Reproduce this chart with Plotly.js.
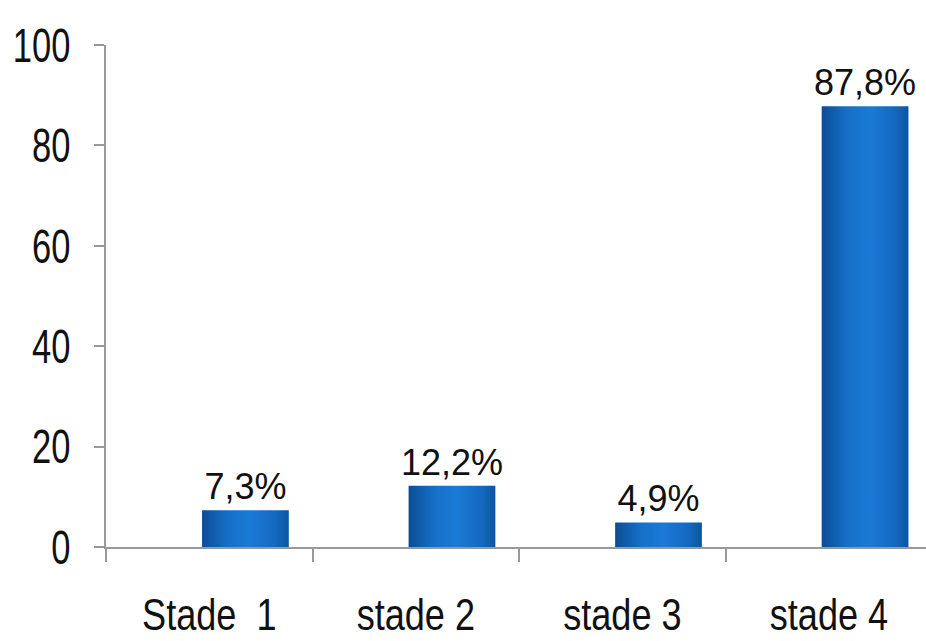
<!DOCTYPE html>
<html>
<head>
<meta charset="utf-8">
<script src="https://cdn.plot.ly/plotly-3.0.1.min.js"></script>
<style>html,body{margin:0;padding:0;background:#fff;}#chart{width:926px;height:641px;}</style>
</head>
<body>
<div id="chart"></div>
<script>
const categories = ["Stade  1", "stade 2", "stade 3", "stade 4"];
const values = [7.3, 12.2, 4.9, 87.8];
const yTicks = [0, 20, 40, 60, 80, 100];

const labels = values.map(v => v.toFixed(1).replace('.', ',') + '%');
const FONT = "'Liberation Sans', Arial, sans-serif";

const trace = {
  type: 'bar',
  x: categories,
  y: values,
  text: labels,
  textposition: 'outside',
  constraintext: 'none',
  cliponaxis: false,
  textfont: {family: FONT, size: 36, color: '#111'},
  width: 0.42,
  offset: -0.035,
  marker: {
    color: '#1668c0',
    line: {color: '#0d4f97', width: 0}
  },
  hoverinfo: 'none'
};

const layout = {
  width: 926, height: 641,
  margin: {l: 106, r: 0, t: 45, b: 94},
  paper_bgcolor: '#fff', plot_bgcolor: '#fff',
  showlegend: false,
  font: {family: FONT, color: '#111'},
  xaxis: {
    type: 'category',
    range: [-0.5, 3.47],
    showline: true, linecolor: '#999999', linewidth: 2,
    ticks: 'outside', tickson: 'boundaries', ticklen: 13, tickcolor: '#999999', tickwidth: 2,
    tickfont: {family: FONT, size: 44, color: '#111'},
    ticklabelstandoff: 28,
    showgrid: false, zeroline: false, fixedrange: true
  },
  yaxis: {
    range: [0, 100],
    tickvals: yTicks,
    showline: true, linecolor: '#999999', linewidth: 2,
    ticks: 'outside', ticklen: 10, tickcolor: '#999999', tickwidth: 2,
    tickfont: {family: FONT, size: 48, color: '#111'},
    ticklabelstandoff: 14,
    showgrid: false, zeroline: false, fixedrange: true
  }
};

function condense(selector, factor) {
  document.querySelectorAll(selector).forEach(el => {
    const L = el.getComputedTextLength();
    if (L > 0) {
      el.setAttribute('lengthAdjust', 'spacingAndGlyphs');
      el.setAttribute('textLength', (L * factor).toFixed(2));
    }
  });
}

function cylinderFill() {
  const svg = document.querySelector('#chart .main-svg');
  const ns = 'http://www.w3.org/2000/svg';
  let defs = svg.querySelector('defs');
  if (!defs) { defs = document.createElementNS(ns, 'defs'); svg.insertBefore(defs, svg.firstChild); }
  const g = document.createElementNS(ns, 'linearGradient');
  g.setAttribute('id', 'cylGrad');
  g.setAttribute('x1', '0'); g.setAttribute('x2', '1'); g.setAttribute('y1', '0'); g.setAttribute('y2', '0');
  [['0', '#0b4d96'], ['0.3', '#1670c8'], ['0.55', '#1a7ad6'], ['0.85', '#1468bf'], ['1', '#0c559f']].forEach(([o, c]) => {
    const s = document.createElementNS(ns, 'stop');
    s.setAttribute('offset', o); s.setAttribute('stop-color', c);
    g.appendChild(s);
  });
  defs.appendChild(g);
  document.querySelectorAll('#chart .bars .point path').forEach(p => {
    p.style.fill = 'url(#cylGrad)';
  });
}

Plotly.newPlot('chart', [trace], layout, {displayModeBar: false, staticPlot: true}).then(() => {
  condense('#chart .xtick text', 0.82);
  condense('#chart .ytick text', 0.72);
  cylinderFill();
});
</script>
</body>
</html>
